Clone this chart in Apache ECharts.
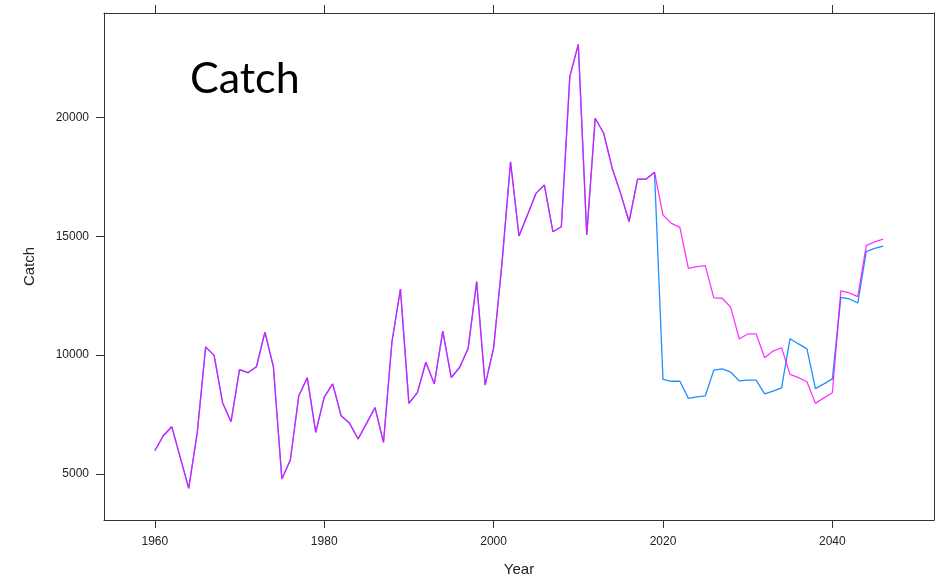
<!DOCTYPE html>
<html>
<head>
<meta charset="utf-8">
<script src="https://cdn.jsdelivr.net/npm/echarts@6/dist/echarts.min.js"></script>
<style>
  html, body { margin: 0; padding: 0; background: #fff; }
  #main { width: 938px; height: 578px; }
</style>
</head>
<body>
<div id="main"></div>
<script>
// observed catch 1960-2019
var histYears = [];
for (var y = 1960; y <= 2019; y++) histYears.push(y);
var histCatch = [5980, 6610, 6990, 5700, 4400, 6710, 10340, 9990, 8000, 7200,
    9390, 9260, 9510, 10970, 9510, 4790, 5590, 8290, 9050, 6750,
    8230, 8790, 7450, 7130, 6470, 7130, 7790, 6330, 10560, 12780,
    7970, 8420, 9700, 8790, 11010, 9050, 9490, 10290, 13090, 8740,
    10290, 13900, 18130, 15010, 15890, 16800, 17150, 15190, 15400, 21710,
    23070, 15050, 19960, 19330, 17860, 16800, 15610, 17400, 17400, 17690];

// projections 2020-2046
var projYears = [];
for (var p = 2020; p <= 2046; p++) projYears.push(p);
var projMagenta = [15890, 15540, 15370, 13650, 13720, 13760, 12410, 12390, 12010, 10680,
    10890, 10890, 9890, 10170, 10310, 9190, 9050, 8880, 7970, 8200,
    8420, 12700, 12620, 12460, 14600, 14760, 14880];
var projBlue = [8980, 8900, 8900, 8180, 8240, 8290, 9370, 9420, 9280, 8920,
    8950, 8950, 8370, 8490, 8620, 10690, 10470, 10260, 8590, 8790,
    9000, 12430, 12360, 12190, 14350, 14490, 14580];

var xTicks = [1960, 1980, 2000, 2020, 2040];
var yTicks = [5000, 10000, 15000, 20000];

function pairs(proj) {
    var years = histYears.concat(projYears);
    var vals = histCatch.concat(proj);
    return years.map(function (yr, i) { return [yr, vals[i]]; });
}

var myChart = echarts.init(document.getElementById('main'));

var axisLineStyle = { color: '#333', width: 1 };
var labelFont = { fontFamily: 'Liberation Sans', fontSize: 12, color: '#222' };
var plain = function (v) { return String(v); };

var option = {
    animation: false,
    backgroundColor: '#fff',
    title: {
        text: 'Catch',
        left: 185,
        top: 53,
        textStyle: { fontFamily: 'Lato', fontSize: 43, fontWeight: 'normal', color: '#000' }
    },
    grid: { left: 104, right: 4, top: 13, bottom: 58, outerBoundsMode: 'none' },
    xAxis: [{
        type: 'value',
        position: 'bottom',
        min: 1954, max: 2052,
        name: 'Year',
        nameLocation: 'middle',
        nameGap: 42,
        nameTextStyle: { fontFamily: 'Liberation Sans', fontSize: 15, color: '#222' },
        splitLine: { show: false },
        axisLine: { show: true, lineStyle: axisLineStyle },
        axisTick: { show: true, length: 8, customValues: xTicks, lineStyle: axisLineStyle },
        axisLabel: Object.assign({ customValues: xTicks, margin: 16, formatter: plain }, labelFont)
    }, {
        type: 'value',
        position: 'top',
        min: 1954, max: 2052,
        splitLine: { show: false },
        axisLine: { show: true, lineStyle: axisLineStyle },
        axisTick: { show: true, length: 8, customValues: xTicks, lineStyle: axisLineStyle },
        axisLabel: { show: false }
    }],
    yAxis: [{
        type: 'value',
        position: 'left',
        min: 3066, max: 24386,
        name: 'Catch',
        nameLocation: 'middle',
        nameGap: 67,
        nameRotate: 90,
        nameTextStyle: { fontFamily: 'Liberation Sans', fontSize: 15, color: '#222' },
        splitLine: { show: false },
        axisLine: { show: true, lineStyle: axisLineStyle },
        axisTick: { show: true, length: 8, customValues: yTicks, lineStyle: axisLineStyle },
        axisLabel: Object.assign({ customValues: yTicks, margin: 15, formatter: plain }, labelFont)
    }, {
        type: 'value',
        position: 'right',
        min: 3066, max: 24386,
        splitLine: { show: false },
        axisLine: { show: true, lineStyle: axisLineStyle },
        axisTick: { show: false },
        axisLabel: { show: false }
    }],
    series: [{
        type: 'line',
        data: pairs(projBlue),
        symbol: 'none',
        lineStyle: { color: '#1e8fff', width: 1.3 },
        z: 2
    }, {
        type: 'line',
        data: pairs(projMagenta),
        symbol: 'none',
        lineStyle: { color: '#ff00ff', width: 1.3, opacity: 0.8 },
        z: 3
    }]
};

myChart.setOption(option);
window.addEventListener("resize", function() {
    myChart.resize();
});
</script>
</body>
</html>
